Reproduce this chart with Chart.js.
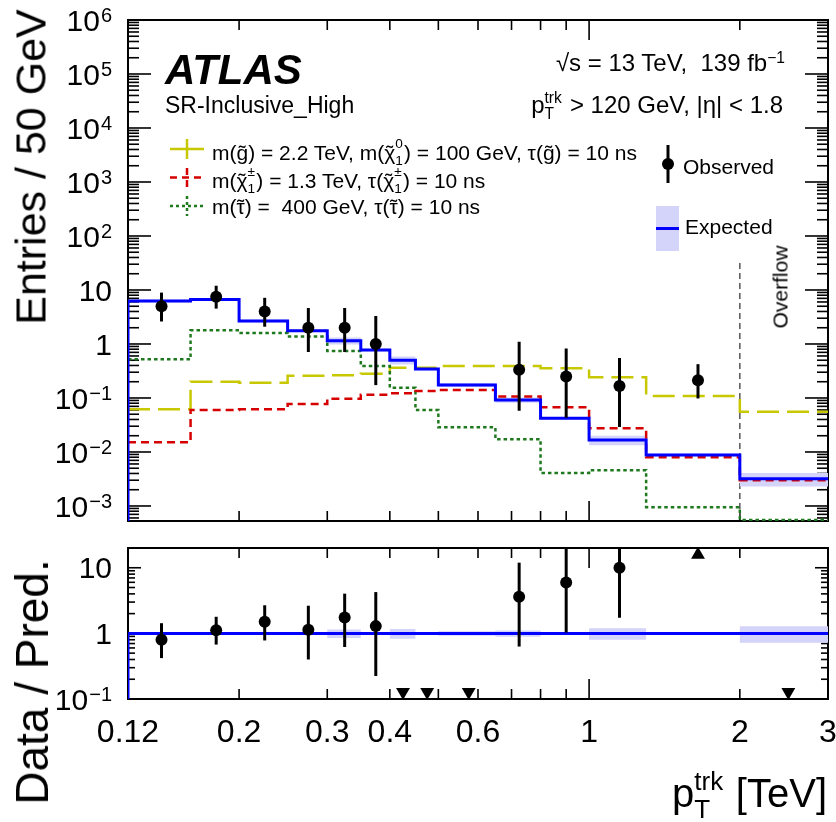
<!DOCTYPE html>
<html><head><meta charset="utf-8">
<script src="https://cdn.jsdelivr.net/npm/chart.js@4"></script>
<style>
body{margin:0;background:#fff;}
#wrap{position:relative;width:836px;height:822px;overflow:hidden;font-family:"Liberation Sans",Arial,Helvetica,sans-serif;color:#000;}
canvas{position:absolute;left:0;top:0;}
.t{position:absolute;white-space:nowrap;line-height:1;}
.rot{position:absolute;white-space:nowrap;line-height:1;transform:translate(-50%,-50%) rotate(-90deg);}
.sup{font-size:0.65em;position:relative;top:-0.5em;}
.ss{position:relative;display:inline-block;height:1em;}
.ss>span{position:absolute;left:0;font-size:0.65em;line-height:1;}
.ss>.sp{top:0.046em;}
.ss>.sb{top:1.11em;}
.ss.hi>.sp{top:-0.16em;}
.tl{position:relative;display:inline-block;}
.tl>i{position:absolute;left:0;right:0;top:0;text-align:center;font-style:normal;line-height:1;}
</style></head><body>
<div id="wrap">
<canvas id="cTop" width="836" height="822"></canvas>
<canvas id="cBot" width="836" height="822"></canvas>

<div class="t" style="left:165px;top:49px;font-size:42px;font-weight:bold;font-style:italic;">ATLAS</div>
<div class="t" style="left:165px;top:94px;font-size:23px;">SR-Inclusive_High</div>
<div class="t" style="right:51px;top:51px;font-size:24px;">&radic;s = 13 TeV,&nbsp; 139 fb<span class="sup">&minus;1</span></div>
<div class="t" style="right:53px;top:89px;font-size:24px;">p<span class="ss" style="width:0.78em"><span class="sp">trk</span><span class="sb">T</span></span> &gt; 120 GeV, |&eta;| &lt; 1.8</div>

<div class="t" style="left:212px;top:139px;font-size:21px;">m(<span class="tl">g<i>&#732;</i></span>) = 2.2 TeV, m(<span class="tl">&chi;<i>&#732;</i></span><span class="ss hi" style="width:0.42em"><span class="sp">0</span><span class="sb">1</span></span>) = 100 GeV, &tau;(<span class="tl">g<i>&#732;</i></span>) = 10 ns</div>
<div class="t" style="left:212px;top:167px;font-size:21px;">m(<span class="tl">&chi;<i>&#732;</i></span><span class="ss hi" style="width:0.42em"><span class="sp">&plusmn;</span><span class="sb">1</span></span>) = 1.3 TeV, &tau;(<span class="tl">&chi;<i>&#732;</i></span><span class="ss hi" style="width:0.42em"><span class="sp">&plusmn;</span><span class="sb">1</span></span>) = 10 ns</div>
<div class="t" style="left:212px;top:195.5px;font-size:21px;">m(<span class="tl">&tau;<i>&#732;</i></span>) = &nbsp;400 GeV, &tau;(<span class="tl">&tau;<i>&#732;</i></span>) = 10 ns</div>

<div class="t" style="left:683px;top:155.5px;font-size:21px;">Observed</div>
<div class="t" style="left:685px;top:215.5px;font-size:21px;">Expected</div>
<div class="rot" style="left:780px;top:287px;font-size:21px;">Overflow</div>

<div class="rot" style="left:31px;top:167px;font-size:43px;">Entries / 50 GeV</div>
<div class="rot" style="left:32px;top:682px;font-size:46px;">Data / Pred.</div>
<div class="t" style="right:9px;top:767px;font-size:40px;">p<span class="ss" style="width:0.76em"><span class="sp">trk</span><span class="sb">T</span></span> [TeV]</div>
</div>

<script>
// ---------------- data ----------------
const binEdges   = [0.12,0.16,0.2,0.25,0.3,0.35,0.4,0.45,0.5,0.65,0.8,1.0,1.3,2.0,3.0];
const expected   = [6.25,6.7,2.67,1.76,1.15,0.774,0.5,0.344,0.174,0.092,0.042,0.0167,0.0088,0.0032];
const expRelUnc  = [0.05,0.05,0.05,0.05,0.15,0.05,0.17,0.05,0.08,0.11,0.05,0.20,0.05,0.28];
const sigGluino  = [0.0618,0.2,0.192,0.259,0.264,0.28,0.364,0.364,0.392,0.392,0.355,0.242,0.109,0.0558];
const sigChargino= [0.0151,0.06,0.0617,0.0774,0.097,0.115,0.122,0.135,0.14,0.106,0.067,0.0275,0.008,0.003];
const sigStau    = [0.52,1.79,1.6,1.37,0.74,0.39,0.155,0.06,0.0287,0.0172,0.0041,0.0046,0.00095,0.00055];

const obsX  = [0.14,0.18,0.225,0.275,0.325,0.375,0.725,0.9,1.15,1.65];
const obsY  = [5.0,7.5,4.0,2.0,2.0,1.0,0.333,0.25,0.167,0.214];
const obsLo = [2.61,4.52,2.09,0.71,0.71,0.173,0.058,0.043,0.029,0.098];
const obsHi = [8.95,11.98,7.16,4.64,4.64,3.30,1.10,0.825,0.55,0.423];

const ratioX  = [0.14,0.18,0.225,0.275,0.325,0.375,0.725,0.9,1.15];
const ratioY  = [0.8,1.12,1.5,1.14,1.74,1.29,3.62,5.95,10.0];
const ratioLo = [0.42,0.675,0.78,0.40,0.62,0.224,0.63,1.03,1.73];
const ratioHi = [1.43,1.79,2.68,2.64,4.03,4.26,11.96,19.6,32.9];
const ratioLine = [1,1,1,1,1,1,1,1,1,1,1,1,1,1];
const downArrowX = [0.425,0.475,0.575,2.5];
const downArrowY = [0.128,0.128,0.128,0.128];
const upArrowX = [1.65];
const upArrowY = [15.8];

const xTickLabelVals = [0.12,0.2,0.3,0.4,0.6,1,2,3];
const xTickLabels    = ['0.12','0.2','0.3','0.4','0.6','1','2','3'];
const xMajorTicks    = [1];
const xMinorTicks    = [0.2,0.3,0.4,0.5,0.6,0.7,0.8,0.9,2];
const topYLabelExps  = [6,5,4,3,2,1,0,-1,-2,-3];
const ratioYLabelExps= [1,0,-1];

const TOP_YMIN = 5.27e-4, TOP_YMAX = 1e6;
const RAT_YMIN = 0.1, RAT_YMAX = 20;
const overflowEdge = 2.0, overflowLineTop = 31.6;

// ---------------- styles ----------------
const FONT = '"Liberation Sans", Arial, Helvetica, sans-serif';
const BLUE = '#0000ff', YEL = '#c8c800', RED = '#d60000', GRN = '#1f7a1f';
const BAND = 'rgb(212,212,250)';

function hist(vals, floor){
  const pts = [];
  if (floor != null) pts.push({x: binEdges[0], y: floor});
  for (let i = 0; i < vals.length; i++) pts.push({x: binEdges[i], y: vals[i]});
  pts.push({x: binEdges[binEdges.length-1], y: vals[vals.length-1]});
  return pts;
}
function pts(xs, ys){ return xs.map((x,i)=>({x, y: ys[i]})); }

function histDS(label, vals, color, dash, width, floor){
  return {label, data: hist(vals, floor), borderColor: color, borderWidth: width, borderDash: dash,
    stepped: 'before', pointRadius: 0, fill: false, tension: 0};
}

function line(ctx,x1,y1,x2,y2){ctx.beginPath();ctx.moveTo(x1,y1);ctx.lineTo(x2,y2);ctx.stroke();}

function drawPowLabel(ctx, xr, y, exp, F, f){
  const base = exp === 0 ? '1' : '10';
  const es = (exp === 0 || exp === 1) ? '' : (exp < 0 ? '\u2212' + (-exp) : String(exp));
  ctx.textAlign = 'left'; ctx.textBaseline = 'alphabetic';
  ctx.font = F + 'px ' + FONT; const wb = ctx.measureText(base).width;
  ctx.font = f + 'px ' + FONT; const we = es ? ctx.measureText(es).width + 1 : 0;
  const x0 = xr - wb - we;
  const bl = y + 0.358*F;
  ctx.font = F + 'px ' + FONT; ctx.fillText(base, x0, bl);
  if (es){ ctx.font = f + 'px ' + FONT; ctx.fillText(es, x0 + wb + 1, bl - 0.716*F - 2 + 0.716*f); }
}

function framePlugin(o){
  return {
    id: 'frame_' + o.name,
    beforeDatasetsDraw(chart){
      const {ctx, chartArea: a, scales: {x, y}} = chart;
      ctx.save();
      ctx.strokeStyle = '#000'; ctx.setLineDash([]);
      ctx.lineWidth = 1.6;
      xMajorTicks.forEach(v => { const p = x.getPixelForValue(v); line(ctx,p,a.bottom,p,a.bottom-o.xMaj); line(ctx,p,a.top,p,a.top+o.xMaj); });
      xMinorTicks.forEach(v => { const p = x.getPixelForValue(v); line(ctx,p,a.bottom,p,a.bottom-o.xMin); line(ctx,p,a.top,p,a.top+o.xMin); });
      for (let d = o.dMin; d <= o.dMax; d++){
        for (let k = 1; k <= 9; k++){
          const v = k * Math.pow(10, d);
          if (v < o.yMin*0.999 || v > o.yMax*1.001) continue;
          const p = y.getPixelForValue(v);
          const L = k === 1 ? o.yMaj : o.yMin_;
          line(ctx,a.left,p,a.left+L,p); line(ctx,a.right,p,a.right-L,p);
        }
      }
      ctx.lineWidth = 2;
      ctx.strokeRect(a.left, a.top, a.right-a.left, a.bottom-a.top);
      if (o.overflow){
        const px = x.getPixelForValue(overflowEdge);
        ctx.strokeStyle = '#555'; ctx.lineWidth = 1.5; ctx.setLineDash([6,4]);
        line(ctx, px, y.getPixelForValue(overflowLineTop), px, a.bottom);
      }
      ctx.restore();
    },
    beforeDatasetDraw(chart, args){
      const ds = chart.data.datasets[args.index];
      if (!ds.errLo) return;
      const {ctx, chartArea: a, scales: {x, y}} = chart;
      ctx.save();
      ctx.beginPath(); ctx.rect(a.left, a.top, a.right-a.left, a.bottom-a.top); ctx.clip();
      ctx.strokeStyle = '#000'; ctx.lineWidth = 3; ctx.setLineDash([]);
      ds.data.forEach((p,i) => {
        const px = x.getPixelForValue(p.x);
        line(ctx, px, y.getPixelForValue(ds.errLo[i]), px, y.getPixelForValue(ds.errHi[i]));
      });
      ctx.restore();
    },
    afterDraw(chart){
      const {ctx, chartArea: a, scales: {x, y}} = chart;
      ctx.save(); ctx.fillStyle = '#000';
      o.yLabels.forEach(e => drawPowLabel(ctx, 112, y.getPixelForValue(Math.pow(10,e)), e, 30, 20));
      if (o.xLabels){
        ctx.font = '32px ' + FONT; ctx.textAlign = 'center'; ctx.textBaseline = 'alphabetic';
        xTickLabelVals.forEach((v,i) => ctx.fillText(xTickLabels[i], x.getPixelForValue(v), 742));
      }
      if (o.legend){
        ctx.lineWidth = 2.5;
        ctx.strokeStyle = YEL; ctx.setLineDash([]);
        line(ctx,170,149,204,149); line(ctx,187,139,187,159);
        ctx.strokeStyle = RED; ctx.setLineDash([7,5]); ctx.lineDashOffset = 0;
        line(ctx,170,177.5,204,177.5); line(ctx,187,168,187,188);
        ctx.strokeStyle = GRN; ctx.setLineDash([3,3]);
        line(ctx,170,206,204,206); line(ctx,187,196,187,216);
        ctx.setLineDash([]);
        ctx.strokeStyle = '#000'; ctx.lineWidth = 3; line(ctx,668,145,668,183);
        ctx.beginPath(); ctx.arc(668,164,6,0,Math.PI*2); ctx.fill();
        ctx.fillStyle = BAND; ctx.fillRect(656,206,23,45);
        ctx.strokeStyle = BLUE; ctx.lineWidth = 3; line(ctx,656,228.5,679,228.5);
      }
      ctx.restore();
    }
  };
}

const common = {
  responsive: false, animation: false, events: [],
  plugins: {legend: {display: false}, tooltip: {enabled: false}},
};

// ---------------- top panel ----------------
const bandLo = expected.map((v,i) => v*(1-expRelUnc[i]));
const bandHi = expected.map((v,i) => v*(1+expRelUnc[i]));

new Chart(document.getElementById('cTop'), {
  type: 'line',
  data: { datasets: [
    {label: 'Observed', data: pts(obsX, obsY), errLo: obsLo, errHi: obsHi, showLine: false,
     pointRadius: 6, pointBackgroundColor: '#000', pointBorderWidth: 0, pointStyle: 'circle'},
    histDS('Expected', expected, BLUE, [], 3, TOP_YMIN),
    histDS('chargino', sigChargino, RED, [8,5], 2.5),
    histDS('stau', sigStau, GRN, [3.5,3], 2.5),
    histDS('gluino', sigGluino, YEL, [22,8], 2.5),
    {label: 'bandLo', data: hist(bandLo), borderWidth: 0, stepped: 'before', pointRadius: 0, fill: false},
    {label: 'bandHi', data: hist(bandHi), borderWidth: 0, stepped: 'before', pointRadius: 0, fill: '-1', backgroundColor: BAND},
  ]},
  options: Object.assign({}, common, {
    layout: {padding: {left: 128, right: 8, top: 20, bottom: 301}},
    scales: {
      x: {type: 'logarithmic', min: 0.12, max: 3, display: false},
      y: {type: 'logarithmic', min: TOP_YMIN, max: TOP_YMAX, display: false},
    }
  }),
  plugins: [framePlugin({name: 'top', xMaj: 20, xMin: 10, yMaj: 23, yMin_: 11, dMin: -4, dMax: 6,
    yMin: TOP_YMIN, yMax: TOP_YMAX, yLabels: topYLabelExps, xLabels: false, legend: true, overflow: true})]
});

// ---------------- ratio panel ----------------
const rBandLo = expRelUnc.map(u => 1-u);
const rBandHi = expRelUnc.map(u => 1+u);

new Chart(document.getElementById('cBot'), {
  type: 'line',
  data: { datasets: [
    {label: 'ratio', data: pts(ratioX, ratioY), errLo: ratioLo, errHi: ratioHi, showLine: false,
     pointRadius: 6, pointBackgroundColor: '#000', pointBorderWidth: 0, pointStyle: 'circle'},
    {label: 'down', data: pts(downArrowX, downArrowY), showLine: false, pointStyle: 'triangle', rotation: 180,
     pointRadius: 8, pointBackgroundColor: '#000', pointBorderWidth: 0},
    {label: 'up', data: pts(upArrowX, upArrowY), showLine: false, pointStyle: 'triangle', rotation: 0,
     pointRadius: 8, pointBackgroundColor: '#000', pointBorderWidth: 0},
    histDS('one', ratioLine, BLUE, [], 3, RAT_YMIN),
    {label: 'bandLo', data: hist(rBandLo), borderWidth: 0, stepped: 'before', pointRadius: 0, fill: false},
    {label: 'bandHi', data: hist(rBandHi), borderWidth: 0, stepped: 'before', pointRadius: 0, fill: '-1', backgroundColor: BAND},
  ]},
  options: Object.assign({}, common, {
    layout: {padding: {left: 128, right: 8, top: 548, bottom: 123}},
    scales: {
      x: {type: 'logarithmic', min: 0.12, max: 3, display: false},
      y: {type: 'logarithmic', min: RAT_YMIN, max: RAT_YMAX, display: false},
    }
  }),
  plugins: [framePlugin({name: 'bot', xMaj: 20, xMin: 10, yMaj: 13, yMin_: 7, dMin: -1, dMax: 1,
    yMin: RAT_YMIN, yMax: RAT_YMAX, yLabels: ratioYLabelExps, xLabels: true, legend: false, overflow: false})]
});
</script>
</body></html>
